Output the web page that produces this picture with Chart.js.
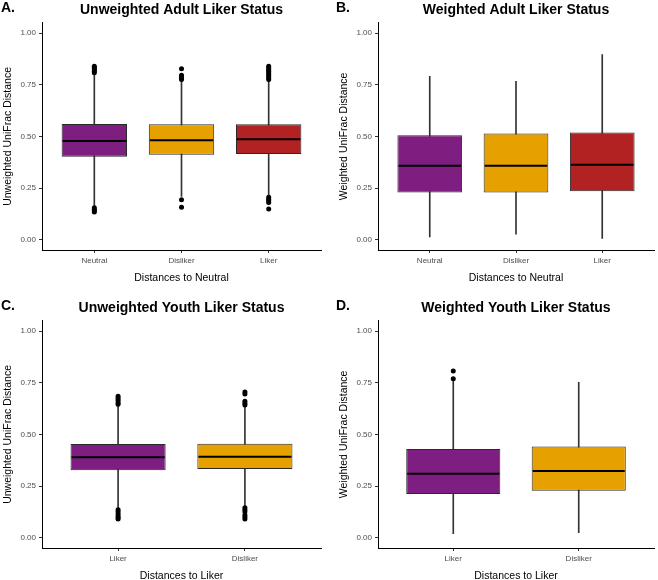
<!DOCTYPE html>
<html>
<head>
<meta charset="utf-8">
<script src="https://cdn.jsdelivr.net/npm/chart.js@4"></script>
<style>
  html, body { margin: 0; padding: 0; background: #fff; overflow: hidden; }
  body { position: relative; width: 658px; height: 580px; }
  canvas { position: absolute; }
</style>
</head>
<body>
<canvas id="panelA" width="329" height="290" style="left:0;top:0"></canvas>
<canvas id="panelB" width="329" height="290" style="left:329px;top:0"></canvas>
<canvas id="panelC" width="329" height="290" style="left:0;top:298px"></canvas>
<canvas id="panelD" width="329" height="290" style="left:329px;top:298px"></canvas>
<script>
// Categories
const adultCats = ['Neutral', 'Disliker', 'Liker'];
const youthCats = ['Liker', 'Disliker'];

// A. Unweighted adult
const unwAdultLo  = [0.165, 0.21, 0.21];
const unwAdultQ1  = [0.402, 0.411, 0.415];
const unwAdultMed = [0.478, 0.481, 0.486];
const unwAdultQ3  = [0.560, 0.559, 0.559];
const unwAdultHi  = [0.80, 0.773, 0.77];
const unwAdultOut = [
  [0.808, 0.815, 0.822, 0.828, 0.834, 0.84, 0.155, 0.147, 0.14, 0.134],
  [0.776, 0.782, 0.789, 0.796, 0.827, 0.193, 0.157],
  [0.776, 0.784, 0.792, 0.80, 0.808, 0.816, 0.824, 0.832, 0.84, 0.205, 0.196, 0.188, 0.18, 0.148]
];

// B. Weighted adult
const wAdultLo  = [0.013, 0.027, 0.006];
const wAdultQ1  = [0.228, 0.228, 0.235];
const wAdultMed = [0.358, 0.358, 0.363];
const wAdultQ3  = [0.506, 0.514, 0.519];
const wAdultHi  = [0.791, 0.767, 0.896];
const wAdultOut = [[], [], []];

// C. Unweighted youth
const unwYouthLo  = [0.14, 0.15];
const unwYouthQ1  = [0.326, 0.333];
const unwYouthMed = [0.389, 0.392];
const unwYouthQ3  = [0.453, 0.455];
const unwYouthHi  = [0.64, 0.635];
const unwYouthOut = [
  [0.646, 0.655, 0.665, 0.675, 0.685, 0.135, 0.125, 0.115, 0.105, 0.096, 0.09],
  [0.642, 0.651, 0.66, 0.695, 0.705, 0.145, 0.135, 0.125, 0.11, 0.10, 0.09]
];

// D. Weighted youth
const wYouthLo  = [0.019, 0.024];
const wYouthQ1  = [0.211, 0.227];
const wYouthMed = [0.310, 0.323];
const wYouthQ3  = [0.429, 0.442];
const wYouthHi  = [0.759, 0.752];
const wYouthOut = [[0.770, 0.807], []];

const yTicks = [0, 0.25, 0.5, 0.75, 1];
const fillColors = ['#7e1e80', '#e6a000', '#b22222'];
const FONT = "'Liberation Sans', Arial, sans-serif";

// median lines + panel letter
const boxExtras = {
  id: 'boxExtras',
  afterDatasetsDraw(chart, args, opts) {
    const ctx = chart.ctx;
    const y = chart.scales.y;
    chart.data.datasets.forEach((ds, di) => {
      if (!ds.medians) return;
      const meta = chart.getDatasetMeta(di);
      meta.data.forEach((bar, i) => {
        const py = y.getPixelForValue(ds.medians[i]);
        ctx.save();
        ctx.strokeStyle = '#000';
        ctx.lineWidth = 2;
        ctx.beginPath();
        ctx.moveTo(bar.x - bar.width / 2 + 1, py);
        ctx.lineTo(bar.x + bar.width / 2 - 1, py);
        ctx.stroke();
        ctx.restore();
      });
    });
    ctx.save();
    ctx.fillStyle = '#000';
    ctx.font = 'bold 14px ' + FONT;
    ctx.textBaseline = 'top';
    ctx.fillText(opts.letter, opts.letterX, 1);
    ctx.restore();
  }
};

function makePanel(id, letter, title, yTitle, xTitle, cats, lo, q1, med, q3, hi, out, padLeft, padRight) {
  const n = cats.length;
  const whiskers = cats.map((c, i) => ({x: i + 1, y: [lo[i], hi[i]]}));
  const boxes = cats.map((c, i) => ({x: i + 1, y: [q1[i], q3[i]]}));
  const points = [];
  out.forEach((vals, i) => vals.forEach(v => points.push({x: i + 1, y: v})));

  new Chart(document.getElementById(id), {
    type: 'bar',
    data: {
      datasets: [
        {
          type: 'scatter',
          data: points,
          pointRadius: 2.5,
          pointBackgroundColor: '#000',
          pointBorderWidth: 0,
          order: 1
        },
        {
          data: boxes,
          medians: med,
          backgroundColor: fillColors.slice(0, n),
          borderColor: '#2a2a2a',
          borderWidth: 1,
          borderSkipped: false,
          grouped: false,
          categoryPercentage: 1,
          barPercentage: 0.75,
          order: 2
        },
        {
          data: whiskers,
          backgroundColor: '#333',
          borderWidth: 0,
          grouped: false,
          barThickness: 1,
          order: 3
        }
      ]
    },
    options: {
      responsive: false,
      animation: false,
      layout: { padding: { left: padLeft, right: padRight, top: 0, bottom: 0 } },
      plugins: {
        legend: { display: false },
        tooltip: { enabled: false },
        title: {
          display: true,
          text: title,
          fullSize: false,
          color: '#000',
          font: { family: FONT, size: 14, weight: 'bold' },
          padding: { top: 2, bottom: 4 }
        },
        boxExtras: { letter: letter, letterX: padLeft ? 7 : 1 }
      },
      scales: {
        x: {
          type: 'linear',
          offset: false,
          min: 0.4,
          max: n + 0.6,
          afterBuildTicks: axis => { axis.ticks = cats.map((c, i) => ({value: i + 1})); },
          afterFit: axis => { axis.height = 40; },
          border: { display: true, color: '#000', width: 1 },
          grid: { display: true, offset: false, drawOnChartArea: false, drawTicks: true, tickLength: 3, color: '#333' },
          ticks: {
            autoSkip: false,
            includeBounds: false,
            padding: 3,
            color: '#4d4d4d',
            font: { family: FONT, size: 8 },
            callback: v => cats[v - 1] || ''
          },
          title: {
            display: true,
            text: xTitle,
            color: '#000',
            font: { family: FONT, size: 10.5 },
            padding: { top: 0, bottom: 6 }
          }
        },
        y: {
          min: -0.05,
          max: 1.05,
          afterBuildTicks: axis => { axis.ticks = yTicks.map(v => ({value: v})); },
          afterFit: axis => { axis.width = 42; },
          border: { display: true, color: '#000', width: 1 },
          grid: { display: true, drawOnChartArea: false, drawTicks: true, tickLength: 3, color: '#333' },
          ticks: {
            includeBounds: false,
            padding: 3,
            color: '#4d4d4d',
            font: { family: FONT, size: 8 },
            callback: v => v.toFixed(2)
          },
          title: {
            display: true,
            text: yTitle,
            color: '#000',
            font: { family: FONT, size: 10.5 },
            padding: { top: 2, bottom: 0 }
          }
        }
      }
    },
    plugins: [boxExtras]
  });
}

makePanel('panelA', 'A.', 'Unweighted Adult Liker Status', 'Unweighted UniFrac Distance', 'Distances to Neutral',
  adultCats, unwAdultLo, unwAdultQ1, unwAdultMed, unwAdultQ3, unwAdultHi, unwAdultOut, 0, 8);
makePanel('panelB', 'B.', 'Weighted Adult Liker Status', 'Weighted UniFrac Distance', 'Distances to Neutral',
  adultCats, wAdultLo, wAdultQ1, wAdultMed, wAdultQ3, wAdultHi, wAdultOut, 7, 4);
makePanel('panelC', 'C.', 'Unweighted Youth Liker Status', 'Unweighted UniFrac Distance', 'Distances to Liker',
  youthCats, unwYouthLo, unwYouthQ1, unwYouthMed, unwYouthQ3, unwYouthHi, unwYouthOut, 0, 8);
makePanel('panelD', 'D.', 'Weighted Youth Liker Status', 'Weighted UniFrac Distance', 'Distances to Liker',
  youthCats, wYouthLo, wYouthQ1, wYouthMed, wYouthQ3, wYouthHi, wYouthOut, 7, 4);
</script>
</body>
</html>
